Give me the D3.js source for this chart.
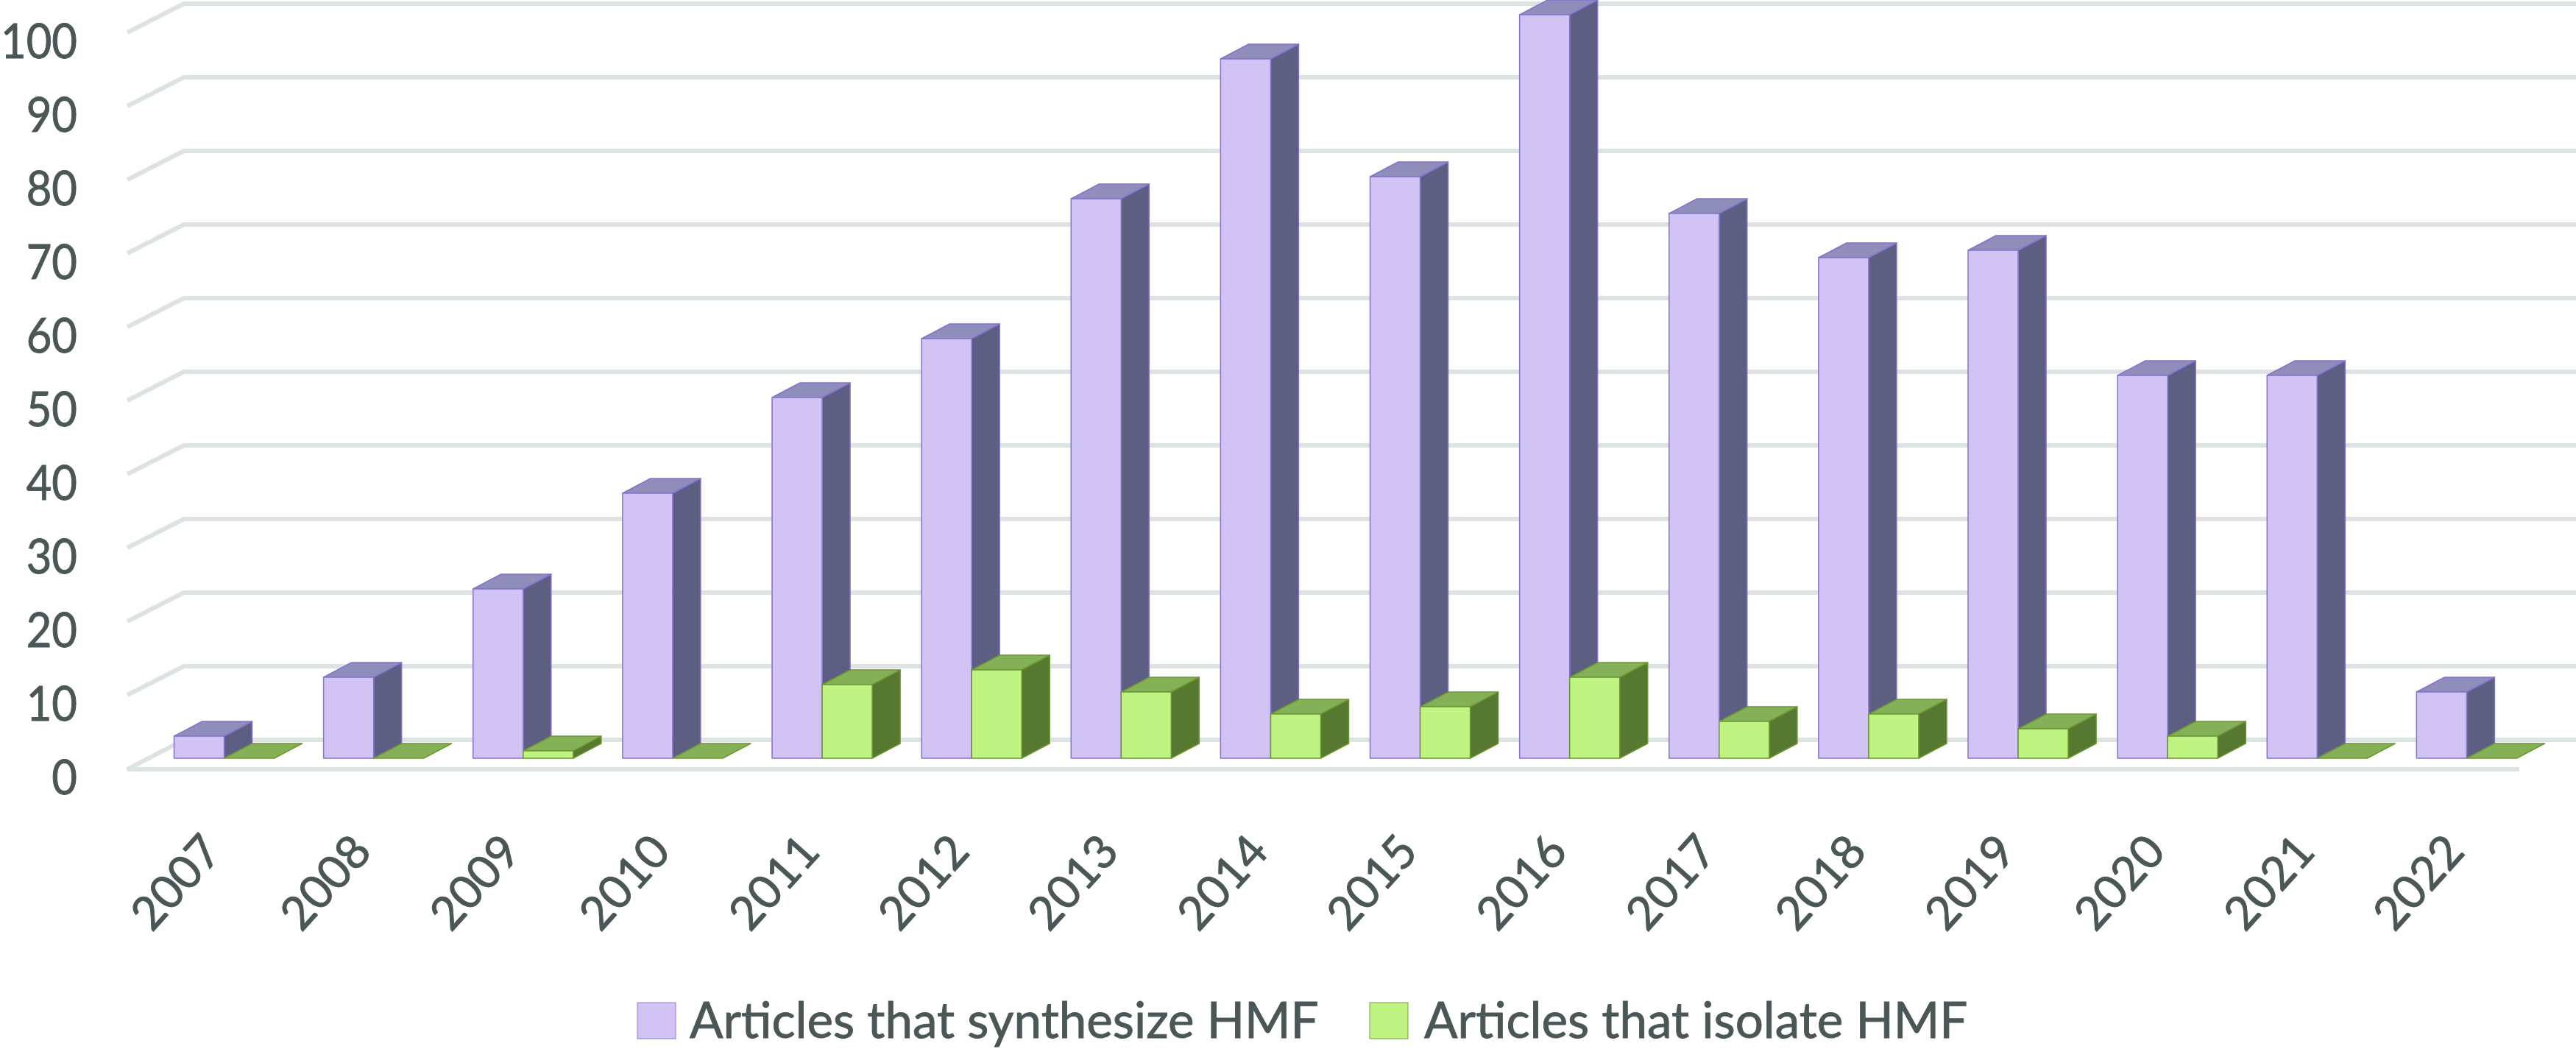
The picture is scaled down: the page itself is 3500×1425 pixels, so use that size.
<!DOCTYPE html>
<html>
<head>
<meta charset="utf-8">
<script src="https://cdn.jsdelivr.net/npm/d3@7"></script>
<style>
  html, body { margin: 0; padding: 0; background: #fff; }
  text { font-family: Lato, sans-serif; fill: #4b5757; stroke: #4b5757; stroke-width: 0.9px; }
</style>
</head>
<body>
<svg id="chart"></svg>
<script>
var years = ['2007', '2008', '2009', '2010', '2011', '2012', '2013', '2014', '2015', '2016', '2017', '2018', '2019', '2020', '2021', '2022'];
var synthesize = [3, 11, 23, 36, 49, 57, 76, 95, 79, 101, 74, 68, 69, 52, 52, 9];
var isolate = [0, 0, 1, 0, 10, 12, 9, 6, 7, 11, 5, 6, 4, 3, 0, 0];
var yTicks = [0, 10, 20, 30, 40, 50, 60, 70, 80, 90, 100];
var seriesNames = ['Articles that synthesize HMF', 'Articles that isolate HMF'];

var width = 3500;
var height = 1425;

// depth of the fake 3d boxes
var depthX = 38;
var depthY = 20;

var purple = { front: '#d1c4f5', side: '#5c5f81', top: '#8f8dba', stroke: '#8573cf' };
var green = { front: '#bff382', side: '#567830', top: '#84b057', stroke: '#6c9630' };

var svg = d3.select('#chart')
  .attr('width', width)
  .attr('height', height)
  .style('display', 'block');

var x = d3.scaleBand()
  .domain(years)
  .range([203, 3453])
  .paddingInner(0.33)
  .paddingOuter(0.165);

var y = d3.scaleLinear()
  .domain([0, 100])
  .range([1030, 30]);

// gridlines run along the floor edge then across the back wall
var gridX = { front: 173, back: 250, end: 3500 };
var grid = svg.append('g');

grid.selectAll('polyline')
  .data(yTicks.slice(1))
  .enter().append('polyline')
  .attr('fill', 'none')
  .attr('stroke', '#dde3e3')
  .attr('stroke-width', 6)
  .attr('points', function(d) {
    return [[gridX.front, y(d) + 14], [gridX.back, y(d) - 25], [gridX.end, y(d) - 25]].join(' ');
  });

// floor
grid.append('polyline')
  .attr('fill', 'none')
  .attr('stroke', '#dde3e3')
  .attr('stroke-width', 6)
  .attr('points', [[3423, y(0) + 15], [gridX.front, y(0) + 15], [gridX.back, y(0) - 25], [gridX.end, y(0) - 25]].join(' '));

function drawBox(g, left, w, value, colors) {
  var top = y(value);
  var base = y(0);
  var right = left + w;
  var faces = [
    { fill: colors.side, pts: [[right, top], [right + depthX, top - depthY], [right + depthX, base - depthY], [right, base]] },
    { fill: colors.top, pts: [[left, top], [left + depthX, top - depthY], [right + depthX, top - depthY], [right, top]] },
    { fill: colors.front, pts: [[left, top], [right, top], [right, base], [left, base]] }
  ];
  g.selectAll(null)
    .data(value > 0 ? faces : faces.slice(1, 2))
    .enter().append('polygon')
    .attr('points', function(d) { return d.pts.join(' '); })
    .attr('fill', function(d) { return d.fill; })
    .attr('stroke', colors.stroke)
    .attr('stroke-width', 1.5)
    .attr('stroke-linejoin', 'round');
}

var barWidth = x.bandwidth() / 2;
var bars = svg.append('g');

years.forEach(function(year, i) {
  var g = bars.append('g');
  drawBox(g, x(year), barWidth, synthesize[i], purple);
  drawBox(g, x(year) + barWidth, barWidth, isolate[i], green);
});

// y labels sit a bit under their gridline, as the 3d axis does
var yAxis = d3.axisLeft(y)
  .tickValues(yTicks)
  .tickSize(0)
  .tickPadding(0);

var yAxisG = svg.append('g')
  .attr('transform', 'translate(105,25)')
  .call(yAxis);
yAxisG.select('.domain').remove();
// digits in the original are narrow, squeeze them so 100 still fits
yAxisG.selectAll('text')
  .attr('font-family', 'Lato, sans-serif')
  .attr('font-size', 65)
  .attr('x', 0)
  .attr('dy', '0.36em')
  .attr('transform', 'scale(0.92,1)');

var xAxis = d3.axisBottom(x)
  .tickSize(0)
  .tickPadding(0);

var xAxisG = svg.append('g')
  .attr('transform', 'translate(' + (2 - x.bandwidth() / 2) + ',1198)')
  .call(xAxis);
xAxisG.select('.domain').remove();
xAxisG.selectAll('text')
  .attr('font-family', 'Lato, sans-serif')
  .attr('font-size', 63)
  .attr('y', 0)
  .attr('dy', '0.36em')
  .attr('text-anchor', 'middle')
  .attr('transform', 'rotate(-48)');

var legendItems = [
  { name: seriesNames[0], colors: purple, swatch: 866, label: 937 },
  { name: seriesNames[1], colors: green, swatch: 1861, label: 1935 }
];

var legend = svg.selectAll('.legend-item')
  .data(legendItems)
  .enter().append('g')
  .attr('class', 'legend-item');

legend.append('rect')
  .attr('x', function(d) { return d.swatch; })
  .attr('y', 1362)
  .attr('width', 52)
  .attr('height', 49)
  .attr('fill', function(d) { return d.colors.front; })
  .attr('stroke', function(d) { return d.colors.stroke; })
  .attr('stroke-opacity', 0.6)
  .attr('stroke-width', 1.5);

legend.append('text')
  .attr('x', function(d) { return d.label; })
  .attr('y', 1410)
  .attr('font-size', 67.3)
  .text(function(d) { return d.name; });
</script>
</body>
</html>
